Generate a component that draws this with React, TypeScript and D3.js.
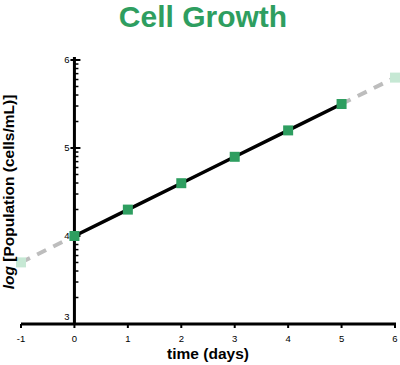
import React from "react";
import * as d3 from "d3";

// measured points (log10 population)
const days = [0, 1, 2, 3, 4, 5];
const logPop = [4.0, 4.3, 4.6, 4.9, 5.2, 5.5];
// extrapolated ends
const extraDays = [-1, 6];
const extraLogPop = [3.7, 5.8];
const xTicks = [-1, 0, 1, 2, 3, 4, 5, 6];
const yTicks = [3, 4, 5, 6];

const W = 400;
const H = 365;
const GREEN = "#2e9e60";
const LIGHT = "#c6e8d4";

const App: React.FC = () => {
  const x = d3.scaleLinear().domain([-1, 6]).range([21, 395]);
  const y = d3.scaleLinear().domain([3, 6]).range([324, 60]);

  const minor: number[] = [];
  for (let n = 3; n < 6; n++) {
    for (let k = 2; k <= 9; k++) minor.push(n + Math.log10(k));
  }

  const line = d3
    .line<[number, number]>()
    .x((d) => x(d[0]))
    .y((d) => y(d[1]));

  const pts: [number, number][] = days.map((d, i) => [d, logPop[i]]);
  const leftDash: [number, number][] = [
    [extraDays[0], extraLogPop[0]],
    [days[0], logPop[0]],
  ];
  const rightDash: [number, number][] = [
    [days[days.length - 1], logPop[logPop.length - 1]],
    [extraDays[1], extraLogPop[1]],
  ];
  const x0 = x(0);
  const font = "Arial, 'Liberation Sans', sans-serif";

  return (
    <svg
      width={W}
      height={H}
      style={{ position: "absolute", left: 0, top: 0 }}
      fontFamily={font}
    >
      <rect width={W} height={H} fill="white" />
      <text
        x={203}
        y={27}
        textAnchor="middle"
        fontSize={30}
        fontWeight="bold"
        fill={GREEN}
      >
        Cell Growth
      </text>

      {/* x axis */}
      <line x1={x(-1)} x2={x(6) + 1} y1={y(3)} y2={y(3)} stroke="black" strokeWidth={3} />
      {xTicks.map((t) => (
        <g key={t}>
          <line x1={x(t)} x2={x(t)} y1={y(3)} y2={y(3) + 4} stroke="black" strokeWidth={2} />
          <text x={x(t)} y={342} textAnchor="middle" fontSize={9.5}>
            {t}
          </text>
        </g>
      ))}

      {/* y axis */}
      <line x1={x0} x2={x0} y1={y(3) + 1} y2={y(6) - 3} stroke="black" strokeWidth={3} />
      {minor.map((m, i) => (
        <line key={i} x1={x0} x2={x0 + 4} y1={y(m)} y2={y(m)} stroke="black" strokeWidth={1.5} />
      ))}
      {yTicks.map((t) => (
        <g key={t}>
          <line x1={x0 - 4} x2={x0 + 6} y1={y(t)} y2={y(t)} stroke="black" strokeWidth={2} />
          <text
            x={x0 - 5}
            y={y(t) + (t === 3 ? -4 : 3)}
            textAnchor="end"
            fontSize={9.5}
          >
            {t}
          </text>
        </g>
      ))}

      {/* extrapolation */}
      {[leftDash, rightDash].map((seg, i) => (
        <path
          key={i}
          d={line(seg) || ""}
          fill="none"
          stroke="#bdbdbd"
          strokeWidth={4}
          strokeDasharray="10,8"
        />
      ))}
      <path d={line(pts) || ""} fill="none" stroke="black" strokeWidth={3.5} />

      {extraDays.map((d, i) => (
        <rect
          key={"e" + i}
          x={x(d) - 5}
          y={y(extraLogPop[i]) - 5}
          width={10}
          height={10}
          fill={LIGHT}
        />
      ))}
      {pts.map((p, i) => (
        <rect key={i} x={x(p[0]) - 5} y={y(p[1]) - 5} width={10} height={10} fill={GREEN} />
      ))}

      <text x={208} y={359} textAnchor="middle" fontSize={15.5} fontWeight="bold">
        time (days)
      </text>
      <text
        transform={`translate(14,${192}) rotate(-90)`}
        textAnchor="middle"
        fontSize={15.5}
        fontWeight="bold"
      >
        <tspan fontStyle="italic">log</tspan> [Population (cells/mL)]
      </text>
    </svg>
  );
};

export default App;
